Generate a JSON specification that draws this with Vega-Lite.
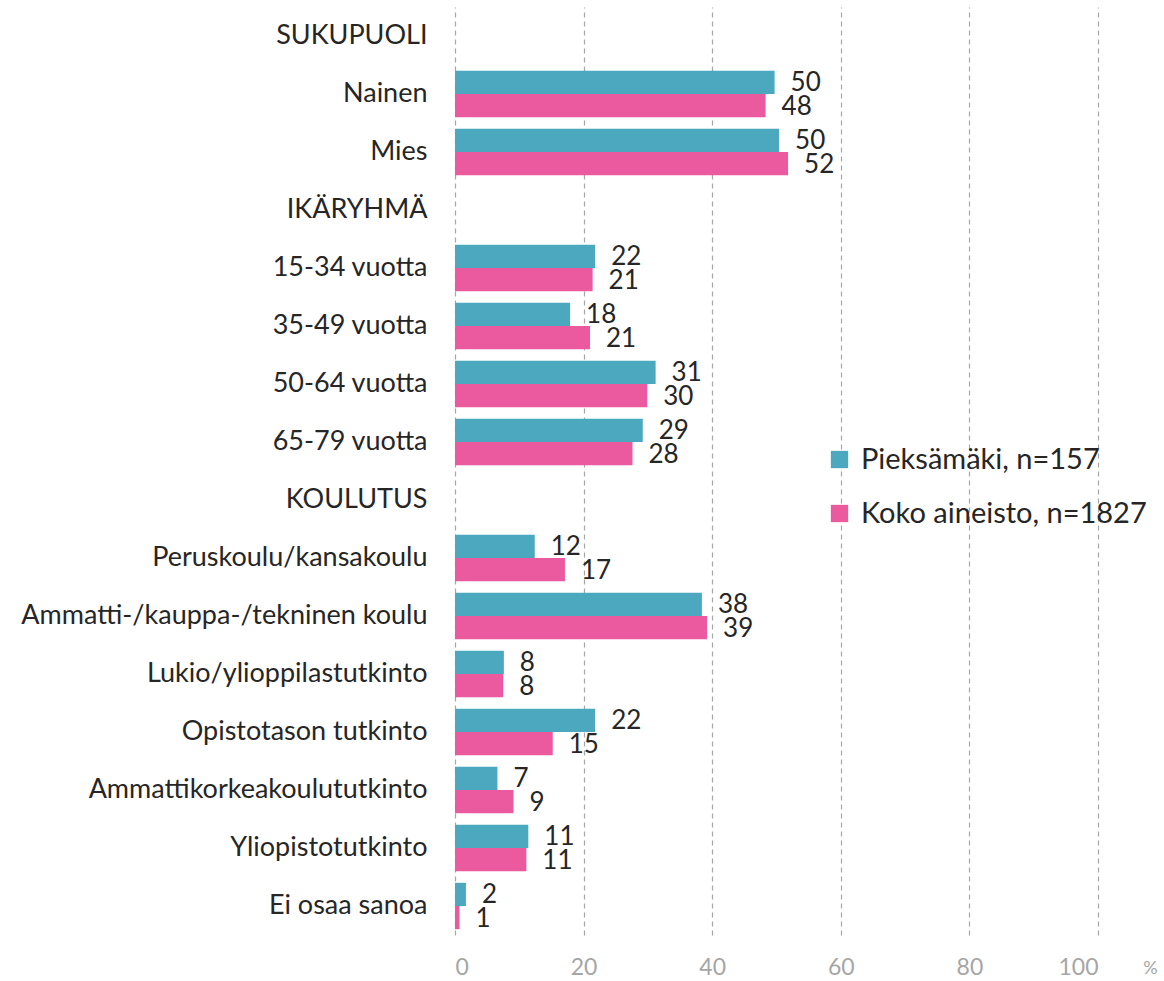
{
  "$schema": "https://vega.github.io/schema/vega-lite/v6.json",
  "width": 643,
  "height": 928,
  "autosize": {"type": "none"},
  "padding": {"left": 455, "top": 7, "right": 66, "bottom": 46},
  "config": {"font": "Lato", "view": {"stroke": null}},
  "data": {
    "values": [
      {"ryhma": "Nainen", "sarja": "Pieksämäki, n=157", "arvo": 49.7},
      {"ryhma": "Nainen", "sarja": "Koko aineisto, n=1827", "arvo": 48.3},
      {"ryhma": "Mies", "sarja": "Pieksämäki, n=157", "arvo": 50.4},
      {"ryhma": "Mies", "sarja": "Koko aineisto, n=1827", "arvo": 51.8},
      {"ryhma": "15-34 vuotta", "sarja": "Pieksämäki, n=157", "arvo": 21.8},
      {"ryhma": "15-34 vuotta", "sarja": "Koko aineisto, n=1827", "arvo": 21.4},
      {"ryhma": "35-49 vuotta", "sarja": "Pieksämäki, n=157", "arvo": 17.9},
      {"ryhma": "35-49 vuotta", "sarja": "Koko aineisto, n=1827", "arvo": 21.0},
      {"ryhma": "50-64 vuotta", "sarja": "Pieksämäki, n=157", "arvo": 31.2},
      {"ryhma": "50-64 vuotta", "sarja": "Koko aineisto, n=1827", "arvo": 29.9},
      {"ryhma": "65-79 vuotta", "sarja": "Pieksämäki, n=157", "arvo": 29.2},
      {"ryhma": "65-79 vuotta", "sarja": "Koko aineisto, n=1827", "arvo": 27.6},
      {"ryhma": "Peruskoulu/kansakoulu", "sarja": "Pieksämäki, n=157", "arvo": 12.4},
      {"ryhma": "Peruskoulu/kansakoulu", "sarja": "Koko aineisto, n=1827", "arvo": 17.1},
      {"ryhma": "Ammatti-/kauppa-/tekninen koulu", "sarja": "Pieksämäki, n=157", "arvo": 38.4},
      {"ryhma": "Ammatti-/kauppa-/tekninen koulu", "sarja": "Koko aineisto, n=1827", "arvo": 39.2},
      {"ryhma": "Lukio/ylioppilastutkinto", "sarja": "Pieksämäki, n=157", "arvo": 7.6},
      {"ryhma": "Lukio/ylioppilastutkinto", "sarja": "Koko aineisto, n=1827", "arvo": 7.5},
      {"ryhma": "Opistotason tutkinto", "sarja": "Pieksämäki, n=157", "arvo": 21.8},
      {"ryhma": "Opistotason tutkinto", "sarja": "Koko aineisto, n=1827", "arvo": 15.2},
      {"ryhma": "Ammattikorkeakoulututkinto", "sarja": "Pieksämäki, n=157", "arvo": 6.6},
      {"ryhma": "Ammattikorkeakoulututkinto", "sarja": "Koko aineisto, n=1827", "arvo": 9.1},
      {"ryhma": "Yliopistotutkinto", "sarja": "Pieksämäki, n=157", "arvo": 11.4},
      {"ryhma": "Yliopistotutkinto", "sarja": "Koko aineisto, n=1827", "arvo": 11.1},
      {"ryhma": "Ei osaa sanoa", "sarja": "Pieksämäki, n=157", "arvo": 1.7},
      {"ryhma": "Ei osaa sanoa", "sarja": "Koko aineisto, n=1827", "arvo": 0.7}
    ]
  },
  "encoding": {
    "y": {
      "field": "ryhma",
      "type": "nominal",
      "scale": {
        "domain": ["SUKUPUOLI", "Nainen", "Mies", "IKÄRYHMÄ", "15-34 vuotta", "35-49 vuotta", "50-64 vuotta", "65-79 vuotta", "KOULUTUS", "Peruskoulu/kansakoulu", "Ammatti-/kauppa-/tekninen koulu", "Lukio/ylioppilastutkinto", "Opistotason tutkinto", "Ammattikorkeakoulututkinto", "Yliopistotutkinto", "Ei osaa sanoa"],
        "paddingInner": 0.2,
        "paddingOuter": 0.1
      },
      "axis": {"title": null, "ticks": false, "domain": false, "labelFontSize": 27, "labelColor": "#262626", "labelPadding": 28, "labelLimit": 500}
    },
    "yOffset": {
      "field": "sarja",
      "type": "nominal",
      "scale": {"domain": ["Pieksämäki, n=157", "Koko aineisto, n=1827"], "paddingInner": 0, "paddingOuter": 0}
    },
    "x": {
      "field": "arvo",
      "type": "quantitative",
      "scale": {"domain": [0, 100]},
      "axis": {
        "values": [0, 20, 40, 60, 80, 100],
        "grid": true,
        "gridDash": [5, 4],
        "gridColor": "#A6A6A6",
        "gridWidth": 1.2,
        "domain": false,
        "ticks": false,
        "labelFontSize": 23,
        "labelColor": "#A6A6A6",
        "labelPadding": 21,
        "title": "%",
        "titleFontSize": 18,
        "titleColor": "#A6A6A6",
        "titleFontWeight": "normal",
        "titleX": 695,
        "titleY": 33,
        "titleAlign": "center",
        "titleBaseline": "middle"
      }
    }
  },
  "layer": [
    {
      "mark": {"type": "bar"},
      "encoding": {
        "color": {
          "field": "sarja",
          "type": "nominal",
          "scale": {"domain": ["Pieksämäki, n=157", "Koko aineisto, n=1827"], "range": ["#4BA8BE", "#EB5A9E"]},
          "legend": {
            "title": null,
            "orient": "none",
            "legendX": 370,
            "legendY": 438,
            "symbolType": "square",
            "symbolSize": 300,
            "symbolStrokeWidth": 0,
            "symbolOpacity": 1,
            "labelFontSize": 29,
            "labelColor": "#262626",
            "labelOffset": 7,
            "rowPadding": 24,
            "labelLimit": 400
          }
        }
      }
    },
    {
      "mark": {"type": "text", "align": "left", "baseline": "middle", "dx": 16, "dy": 1, "fontSize": 26, "color": "#262626"},
      "encoding": {"text": {"field": "arvo", "type": "quantitative", "format": ".0f"}}
    }
  ]
}
